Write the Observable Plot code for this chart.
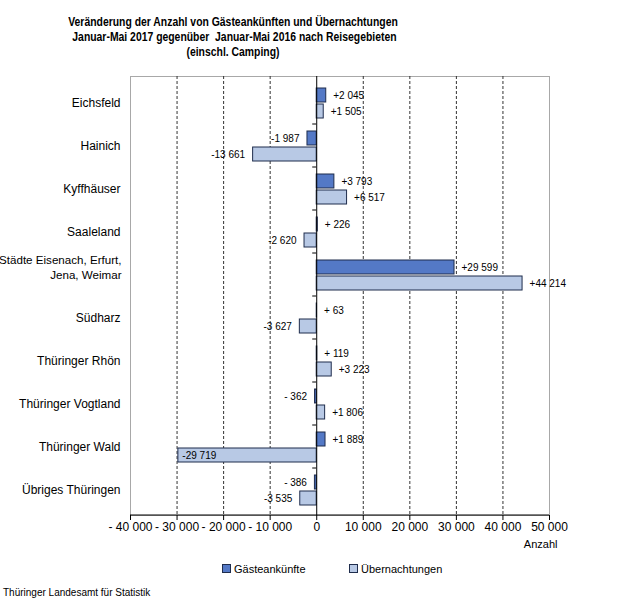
<!DOCTYPE html>
<html>
<head>
<meta charset="utf-8">
<script src="https://cdn.jsdelivr.net/npm/d3@7"></script>
<script src="https://cdn.jsdelivr.net/npm/@observablehq/plot@0.6"></script>
<style>
  body { margin: 0; background: #fff; font-family: "Liberation Sans", Arial, sans-serif; }
  #wrap { position: relative; width: 644px; height: 607px; overflow: hidden; }
  #title { width: 466px; height: 51px; padding-top: 14px; text-align: center;
           font-family: "Liberation Sans", Arial, sans-serif;
           font-weight: bold; font-size: 13px; line-height: 15px; color: #000;
           transform: scaleX(0.8); transform-origin: 233px 0; }
  #legend { position: relative; height: 14px; margin-top: 7px; font-size: 11px; line-height: 14px; }
  .item { position: absolute; top: 0; white-space: nowrap; }
  .sw { display: inline-block; width: 7px; height: 7px; border: 1px solid #1f2d4d; margin-right: 3px; vertical-align: 0px; }
  #caption { margin-top: 11px; padding-left: 3px; font-size: 10px; line-height: 12px; }
</style>
</head>
<body>
<div id="wrap">
  <div id="title">Veränderung der Anzahl von Gästeankünften und Übernachtungen<br>&nbsp;Januar-Mai 2017 gegenüber&nbsp; Januar-Mai 2016 nach Reisegebieten<br>(einschl. Camping)</div>
  <div id="chart"></div>
  <div id="legend"></div>
  <div id="caption">Thüringer Landesamt für Statistik</div>
</div>
<script>
const regions = ["Eichsfeld", "Hainich", "Kyffhäuser", "Saaleland", "Städte Eisenach, Erfurt,\nJena, Weimar",
  "Südharz", "Thüringer Rhön", "Thüringer Vogtland", "Thüringer Wald", "Übriges Thüringen"];
const gaesteankuenfte = [2045, -1987, 3793, 226, 29599, 63, 119, -362, 1889, -386];
const uebernachtungen = [1505, -13661, 6517, -2620, 44214, -3627, 3223, 1806, -29719, -3535];
const seriesNames = ["Gästeankünfte", "Übernachtungen"];
const seriesColors = ["#5479c6", "#b8c9e5"];
const xTicks = [-40000, -30000, -20000, -10000, 0, 10000, 20000, 30000, 40000, 50000];
const xDomain = [-40000, 50000];
const xAxisLabel = "Anzahl";

const rows = [];
regions.forEach((r, i) => {
  rows.push({region: r, series: seriesNames[0], value: gaesteankuenfte[i]});
  rows.push({region: r, series: seriesNames[1], value: uebernachtungen[i]});
});
const g = rows.filter(d => d.series === seriesNames[0]);
const u = rows.filter(d => d.series === seriesNames[1]);

const thou = v => d3.format(",")(Math.abs(v)).replace(/,/g, " ");
const fmtTick = v => v === 0 ? "0" : (v < 0 ? "- " : "") + thou(v);
const fmtVal = v => (v < 0 ? "-" : "+") + (Math.abs(v) < 1000 ? " " : "") + thou(v);
const inside = d => d.value < -25000;

const labelMarks = (data, dy) => [
  Plot.text(data.filter(d => d.value >= 0), {x: "value", y: "region", text: d => fmtVal(d.value), dy, dx: 7, textAnchor: "start", fontSize: 10}),
  Plot.text(data.filter(d => d.value < 0 && !inside(d)), {x: "value", y: "region", text: d => fmtVal(d.value), dy, dx: -8, textAnchor: "end", fontSize: 10}),
  Plot.text(data.filter(d => inside(d)), {x: "value", y: "region", text: d => fmtVal(d.value), dy, dx: 4, textAnchor: "start", fontSize: 10})
];

const chart = Plot.plot({
  width: 644,
  height: 490,
  marginTop: 11,
  marginBottom: 40,
  marginLeft: 130,
  marginRight: 95,
  style: {fontFamily: "'Liberation Sans', Arial, sans-serif", fontSize: "12px", color: "#000", overflow: "visible"},
  x: {domain: xDomain, axis: null, label: null},
  y: {domain: regions, padding: 0, axis: null, label: null},
  marks: [
    Plot.frame({stroke: "#a8a8a8"}),
    Plot.ruleX(xTicks.filter(v => v !== 0 && v !== xDomain[0] && v !== xDomain[1]), {stroke: "#333", strokeDasharray: "3,2", strokeWidth: 1}),
    Plot.barX(g, {x1: 0, x2: "value", y: "region", insetTop: 7, insetBottom: 22, fill: seriesColors[0], stroke: "#1f2d4d", strokeWidth: 1}),
    Plot.barX(u, {x1: 0, x2: "value", y: "region", insetTop: 23, insetBottom: 6, fill: seriesColors[1], stroke: "#1f2d4d", strokeWidth: 1}),
    Plot.ruleX([0], {stroke: "#000", strokeWidth: 1}),
    ...labelMarks(g, -7.5),
    ...labelMarks(u, 8.5),
    Plot.text(regions.filter(r => !r.includes("\n")), {y: d => d, text: d => d, frameAnchor: "left", dx: -10, textAnchor: "end", fontSize: 12}),
    Plot.text(regions.filter(r => r.includes("\n")), {y: d => d, text: d => d, frameAnchor: "left", dx: -9, dy: -8, textAnchor: "end", fontSize: 11.6, lineHeight: 1.27}),
    Plot.axisX({ticks: xTicks, tickFormat: fmtTick, tickSize: 5, tickPadding: 2, fontSize: 12, anchor: "bottom", label: null}),
    Plot.text([xAxisLabel], {text: d => d, frameAnchor: "bottom-right", dx: 8, dy: 32, textAnchor: "end", fontSize: 11})
  ]
});
document.getElementById("chart").appendChild(chart);

// bottom axis line and band-boundary ticks on the zero line, from Plot's own scales
const sx = chart.scale("x"), sy = chart.scale("y");
const svg = d3.select(chart);
const yBottom = sy.range[1];
svg.append("line").attr("x1", sx.apply(xDomain[0])).attr("x2", sx.apply(xDomain[1]))
  .attr("y1", yBottom).attr("y2", yBottom).attr("stroke", "#000");
regions.slice(1).forEach(r => {
  const yy = sy.apply(r);
  svg.append("line").attr("x1", sx.apply(0) - 4).attr("x2", sx.apply(0))
    .attr("y1", yy).attr("y2", yy).attr("stroke", "#000");
});

// legend
const legend = d3.select("#legend");
const legendX = [222, 349];
seriesNames.forEach((s, i) => {
  const it = legend.append("div").attr("class", "item").style("left", legendX[i] + "px");
  it.append("span").attr("class", "sw").style("background", seriesColors[i]);
  it.append("span").text(s);
});
</script>
</body>
</html>
